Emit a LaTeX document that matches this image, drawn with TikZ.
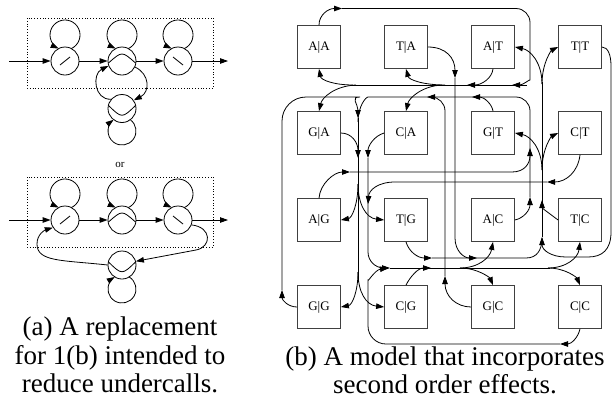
\documentclass[tikz,border=0pt]{standalone}
\usepackage{fontspec}
\setmainfont{Liberation Serif}
\usetikzlibrary{arrows.meta}
\begin{document}
\begin{tikzpicture}[x=1pt,y=-1pt,line width=0.8pt]
\tikzset{
 st/.style={draw, circle, minimum size=28pt, inner sep=0pt},
 sbox/.style={draw=black!75, minimum size=43pt, inner sep=0pt, font=\rmfamily\fontsize{13}{13}\selectfont},
 arr/.style={-{Triangle[length=8pt,width=5.5pt]}},
 dotbox/.style={dotted, line width=0.8pt},
 captxt/.style={font=\rmfamily\fontsize{27}{29}\selectfont, anchor=base},
}
\useasboundingbox (0,0) rectangle (613,413);

% ---------- panel (a), top ----------
\draw[dotbox] (27,18) rectangle (213,88);
\node[st] (a1) at (65,61) {};
\node[st] (a2) at (122,61) {};
\node[st] (a3) at (178,61) {};
\node[st] (a4) at (122,108.5) {};
\coordinate (ain) at (9,61);
\coordinate (aout) at (228,61);
\draw[arr] (ain) -- (a1);
\draw[arr] (a1) -- (a2);
\draw[arr] (a2) -- (a3);
\draw[arr] (a3) -- (aout);
\draw[arr] (a1) ++(6.4,-12.44) arc[start angle=-64.8, end angle=244.8, radius=15pt];
\draw[arr] (a2) ++(6.4,-12.44) arc[start angle=-64.8, end angle=244.8, radius=15pt];
\draw[arr] (a3) ++(6.4,-12.44) arc[start angle=-64.8, end angle=244.8, radius=15pt];
\draw[arr] (a4) ++(8.33,11.25) arc[start angle=53.5, end angle=-233.5, radius=14pt];
\draw ([shift={(-5,4)}]a1.center) -- ([shift={(5,-4)}]a1.center);
\draw ([shift={(-5,-4)}]a3.center) -- ([shift={(5,4)}]a3.center);
\draw ([shift={(-13.5,2)}]a2.center) .. controls ([shift={(0,-10)}]a2.center) .. ([shift={(13.5,2)}]a2.center);
\draw ([shift={(-13.5,-3)}]a4.center) .. controls ([shift={(0,10)}]a4.center) .. ([shift={(13.5,-3)}]a4.center);
\draw[arr] (a4.140) .. controls (94,100) and (92,74) .. (a2.200);
\draw[arr] (a2.-25) .. controls (150,74) and (150,92) .. (a4.35);

% ---------- panel (a), bottom ----------
\node[font=\rmfamily\fontsize{11}{11}\selectfont] (or) at (120,165) {or};
\draw[dotbox] (27,177) rectangle (213,247);
\node[st] (b1) at (65,220) {};
\node[st] (b2) at (122,220) {};
\node[st] (b3) at (178,220) {};
\node[st] (b4) at (122,265) {};
\coordinate (bin) at (9,220);
\coordinate (bout) at (228,220);
\draw[arr] (bin) -- (b1);
\draw[arr] (b1) -- (b2);
\draw[arr] (b2) -- (b3);
\draw[arr] (b3) -- (bout);
\draw[arr] (b1) ++(6.4,-12.44) arc[start angle=-64.8, end angle=244.8, radius=15pt];
\draw[arr] (b2) ++(6.4,-12.44) arc[start angle=-64.8, end angle=244.8, radius=15pt];
\draw[arr] (b3) ++(6.4,-12.44) arc[start angle=-64.8, end angle=244.8, radius=15pt];
\draw[arr] (b4) ++(7.2,12) arc[start angle=59, end angle=-239, radius=14pt];
\draw ([shift={(-5,4)}]b1.center) -- ([shift={(5,-4)}]b1.center);
\draw ([shift={(-5,-4)}]b3.center) -- ([shift={(5,4)}]b3.center);
\draw ([shift={(-13.5,2)}]b2.center) .. controls ([shift={(0,-10)}]b2.center) .. ([shift={(13.5,2)}]b2.center);
\draw ([shift={(-13.5,-3)}]b4.center) .. controls ([shift={(0,10)}]b4.center) .. ([shift={(13.5,-3)}]b4.center);
\draw[arr] (b4.west) .. controls (62,260) and (37,262) .. (37,244) .. controls (37,234) and (45,230) .. (b1.212);
\draw[arr] (b3.-20) .. controls (212,227) and (212,247) .. (196,250) -- (b4.15);

% ---------- captions ----------
\node[captxt] (capa1) at (120,335) {(a) A replacement};
\node[captxt] (capa2) at (120,364) {for 1(b) intended to};
\node[captxt] (capa3) at (120,392) {reduce undercalls.};
\node[captxt] (capb1) at (445,365) {(b) A model that incorporates};
\node[captxt] (capb2) at (445,393) {second order effects.};

% ---------- panel (b) ----------
\node[sbox] (AA) at (319,47) {A|A};
\node[sbox] (TA) at (406,47) {T|A};
\node[sbox] (AT) at (493,47) {A|T};
\node[sbox] (TT) at (580,47) {T|T};
\node[sbox] (GA) at (319,133) {G|A};
\node[sbox] (CA) at (406,133) {C|A};
\node[sbox] (GT) at (493,133) {G|T};
\node[sbox] (CT) at (580,133) {C|T};
\node[sbox] (AG) at (319,220) {A|G};
\node[sbox] (TG) at (406,220) {T|G};
\node[sbox] (AC) at (493,220) {A|C};
\node[sbox] (TC) at (580,220) {T|C};
\node[sbox] (GG) at (319,307) {G|G};
\node[sbox] (CG) at (406,307) {C|G};
\node[sbox] (GC) at (493,307) {G|C};
\node[sbox] (CC) at (580,307) {C|C};

% ?|A bus
\coordinate (jA1) at (342,8.5);
\coordinate (jA2) at (512,85);
\coordinate (jA3) at (467,85);
\draw[arr] (AA.north) .. controls (319,15) and (328,8.5) .. (jA1);
\draw[arr,rounded corners=14pt] (jA1) -- (530,8.5) -- (530,66) [sharp corners] .. controls (530,79) and (523,85) .. (jA2);
\draw (350,85) -- (527,85);
\draw[arr] (AT.south) .. controls (492,78) and (482,85) .. (jA3);
\draw[arr] (353,85) .. controls (334,85) and (321,80) .. (AA.south);
\draw[arr] (356,85) .. controls (334,86) and (322,98) .. (GA.north);
\draw[arr] (445,85) .. controls (424,85) and (409,80) .. (TA.south);
\draw[arr] (442,85) .. controls (422,86) and (409,98) .. (CA.north);

% ?|G bus
\coordinate (jG1) at (358,118);
\draw[arr] (GG.west) .. controls (288,307) and (282,300) .. (282,290);
\draw[arr,rounded corners=24pt] (282,290) -- (282,97) -- (336,97) [sharp corners] .. controls (350,97) and (358,104) .. (jG1);
\draw[rounded corners=14pt] (530,197) -- (530,97) -- (382,97) [sharp corners] .. controls (366,97) and (358,106) .. (358,122);
\draw (jG1) -- (358,282);
\draw[arr] (AC.east) .. controls (524,218) and (530,210) .. (530,197);
\draw[arr] (AG.north) .. controls (320,184) and (334,172) .. (350,172);
\draw[arr] (350,172) -- (512,172) .. controls (525,172) and (530,163) .. (530,148);
\draw[arr] (GT.north) .. controls (492,104) and (484,97) .. (472,97);
\draw[arr] (GC.west) .. controls (456,307) and (445,296) .. (445,276);
\draw[arr,rounded corners=14pt] (445,276) -- (445,97) -- (427,97);
\draw[arr] (GA.east) .. controls (352,133) and (358,143) .. (358,158);
\draw[arr] (358,184) .. controls (358,204) and (352,218) .. (AG.east);
\draw[arr] (358,184) .. controls (358,204) and (366,218) .. (TG.west);
\draw[arr] (358,272) .. controls (358,292) and (352,305) .. (GG.east);
\draw[arr] (358,272) .. controls (358,292) and (366,305) .. (CG.west);

% ?|T bus
\draw[arr] (TA.east) .. controls (446,47) and (455,58) .. (455,78);
\draw[arr] (455,78) -- (455,238) .. controls (455,251) and (464,258) .. (477,258);
\draw[arr] (TG.south) .. controls (409,252) and (418,258) .. (432,258);
\draw (432,258) -- (526,258) .. controls (537,258) and (542,250) .. (542,238);
\draw[arr] (TT.east) .. controls (608,47) and (611,55) .. (611,66) -- (611,232) .. controls (611,250) and (602,257) .. (588,257) -- (566,257) .. controls (551,257) and (542,250) .. (542,237);
\draw (542,237) -- (542,82);
\draw[arr] (TC.west) .. controls (550,214) and (542,208) .. (542,200);
\draw[arr] (542,84) .. controls (542,62) and (530,50) .. (AT.east);
\draw[arr] (542,84) .. controls (542,62) and (552,50) .. (TT.west);
\draw[arr] (542,170) .. controls (542,148) and (530,136) .. (GT.east);
\draw[arr] (542,170) .. controls (542,148) and (552,136) .. (CT.west);

% ?|C bus
\draw[arr] (CT.south) .. controls (578,172) and (566,182) .. (547,182);
\draw[arr] (547,182) -- (395,182) .. controls (378,182) and (369,190) .. (368,204);
\draw[arr] (CA.west) .. controls (374,136) and (368,146) .. (368,158);
\draw[arr,rounded corners=16pt] (368,158) -- (368,268) -- (390,268);
\draw (390,268) -- (550,268);
\draw[arr] (CC.south) .. controls (578,338) and (571,344) .. (560,344);
\draw[arr,rounded corners=18pt] (560,344) -- (368,344) -- (368,298) [sharp corners] .. controls (368,282) and (375,270) .. (388,268);
\draw[arr] (CG.north) .. controls (410,277) and (418,268) .. (431,268);
\draw[arr] (460,268) .. controls (478,268) and (490,258) .. (AC.south);
\draw[arr] (460,268) .. controls (478,268) and (490,278) .. (GC.north);
\draw[arr] (548,268) .. controls (566,268) and (578,258) .. (TC.south);
\draw[arr] (548,268) .. controls (566,268) and (577,278) .. (CC.north);
\end{tikzpicture}
\end{document}
